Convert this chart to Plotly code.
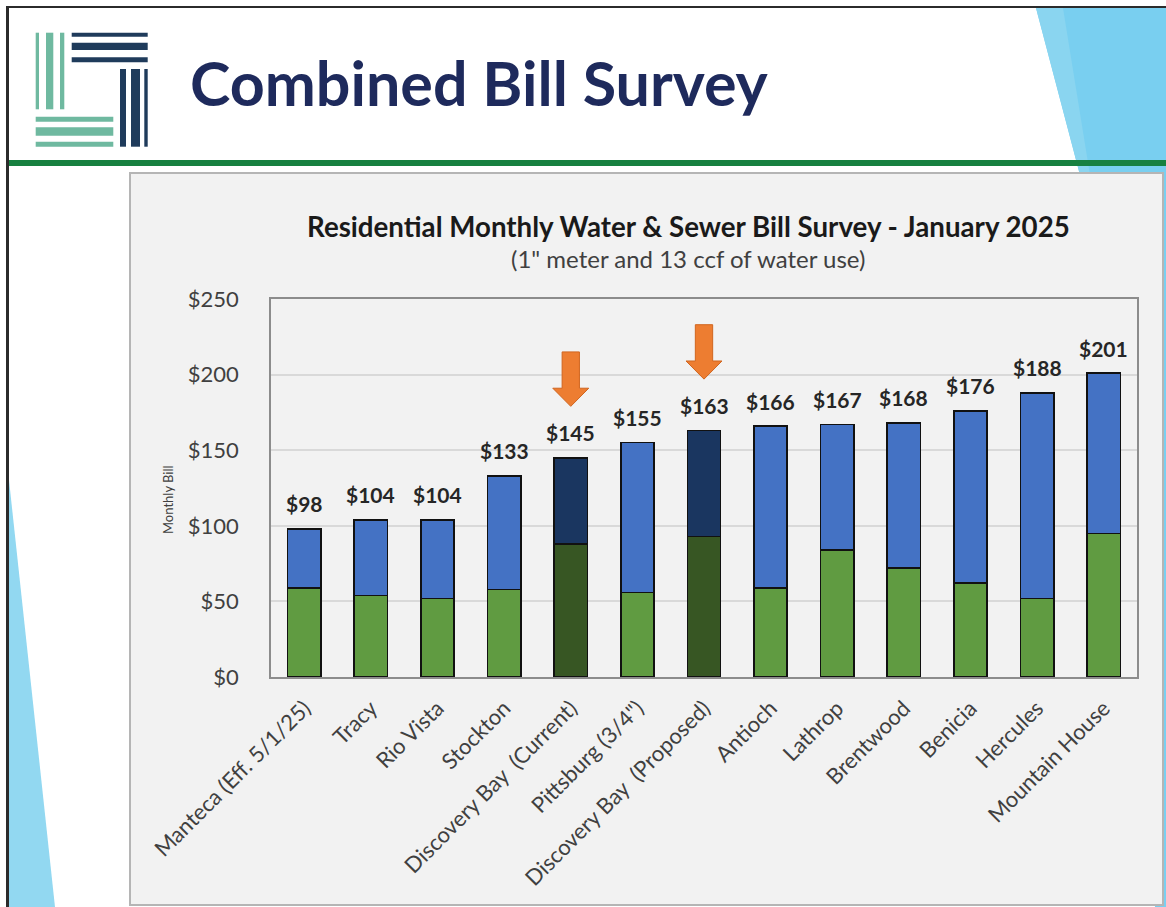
import plotly.graph_objects as go

# ---------------- data ----------------
categories = [
    "Manteca (Eff. 5/1/25)", "Tracy", "Rio Vista", "Stockton",
    "Discovery Bay  (Current)", "Pittsburg (3/4\")", "Discovery Bay  (Proposed)",
    "Antioch", "Lathrop", "Brentwood", "Benicia", "Hercules", "Mountain House",
]
totals = [98, 104, 104, 133, 145, 155, 163, 166, 167, 168, 176, 188, 201]
water = [59, 54, 52, 58, 88, 56, 93, 59, 84, 72, 62, 52, 95]
highlight = [False, False, False, False, True, False, True, False, False, False, False, False, False]
y_tick_values = [0, 50, 100, 150, 200, 250]
y_tick_labels = ["$0", "$50", "$100", "$150", "$200", "$250"]

sewer = [t - w for t, w in zip(totals, water)]
idx = list(range(len(categories)))

# ---------------- styling ----------------
W, H = 1166, 907
FONT = "Lato"
GREEN, GREEN_DK = "#609B41", "#375623"
BLUE, BLUE_DK = "#4472C4", "#1A3660"
ORANGE = "#ED7D31"


def px(x):
    return x / W


def py(y):
    return 1 - y / H


def rect(x0, y0, x1, y1, color, line=None, layer="below"):
    return dict(type="rect", xref="paper", yref="paper",
                x0=px(x0), x1=px(x1), y0=py(y1), y1=py(y0),
                fillcolor=color, line=line or dict(width=0), layer=layer)


def poly(points, color, layer="below"):
    d = "M" + " L".join(f"{px(a):.5f},{py(b):.5f}" for a, b in points) + " Z"
    return dict(type="path", xref="paper", yref="paper", path=d,
                fillcolor=color, line=dict(width=0), layer=layer)


fig = go.Figure()

fig.add_trace(go.Bar(
    x=idx, y=water, width=0.5, name="Water",
    marker=dict(color=[GREEN_DK if h else GREEN for h in highlight],
                line=dict(color="#111111", width=1.6)),
    hoverinfo="skip",
))
fig.add_trace(go.Bar(
    x=idx, y=sewer, width=0.5, name="Sewer",
    marker=dict(color=[BLUE_DK if h else BLUE for h in highlight],
                line=dict(color="#111111", width=1.6)),
    hoverinfo="skip",
))

# orange arrows above highlighted bars (positioned from bar totals)
for i, (t, h) in enumerate(zip(totals, highlight)):
    if not h:
        continue
    tip, base, top = t + 34, t + 46, t + 70
    sw, hw = 0.13, 0.27
    xs = [i - sw, i + sw, i + sw, i + hw, i, i - hw, i - sw, i - sw]
    ys = [top, top, base, base, tip, base, base, top]
    fig.add_trace(go.Scatter(
        x=xs, y=ys, mode="lines", fill="toself", fillcolor=ORANGE,
        line=dict(color="#D0651F", width=1), hoverinfo="skip", showlegend=False,
    ))

annotations = []
for i, t in enumerate(totals):
    annotations.append(dict(
        x=i, y=t, xref="x", yref="y", text=f"${t}", showarrow=False,
        yanchor="middle", yshift=25,
        font=dict(family=FONT, size=21, color="#262626", weight="bold"),
    ))

# slide texts
annotations += [
    dict(x=px(188), y=py(82), xref="paper", yref="paper", xanchor="left", yanchor="middle",
         text="<b>Combined Bill Survey</b>", showarrow=False,
         font=dict(family=FONT, size=61, color="#1E2A5C")),
    dict(x=px(688), y=py(226), xref="paper", yref="paper", xanchor="center", yanchor="middle",
         text="<b>Residential Monthly Water & Sewer Bill Survey - January 2025</b>", showarrow=False,
         font=dict(family=FONT, size=27.7, color="#1A1A1A")),
    dict(x=px(688), y=py(258), xref="paper", yref="paper", xanchor="center", yanchor="middle",
         text="(1\" meter and 13 ccf of water use)", showarrow=False,
         font=dict(family=FONT, size=24, color="#404040")),
    dict(x=px(168), y=py(500), xref="paper", yref="paper", xanchor="center", yanchor="middle",
         text="Monthly Bill", textangle=-90, showarrow=False,
         font=dict(family=FONT, size=13, color="#404040")),
]

NAVY_LOGO, TEAL_LOGO = "#1F3B5B", "#6FB9A0"
shapes = [
    # light-blue decorative shapes
    poly([(1036, 8), (1166, 8), (1166, 907), (1155, 907), (1080, 175)], "#79CFF0"),
    poly([(1036, 8), (1063, 8), (1090, 175), (1080, 175)], "#8AD5F0"),
    poly([(9, 480), (9, 907), (55, 907)], "#92D8F1"),
    # slide frame
    rect(6, 6, 1166, 8, "#2B2B2B"),
    rect(6, 6, 9, 907, "#2B2B2B"),
    # green rule under the title
    rect(9, 160, 1166, 166, "#178040"),
    # chart box
    rect(130, 173, 1163, 905, "#F2F2F2", line=dict(color="#B5B5B5", width=2)),
    # logo
    rect(35.7, 32.7, 39, 109.3, TEAL_LOGO),
    rect(46, 32.7, 53.3, 109.3, TEAL_LOGO),
    rect(60, 32.7, 64.3, 109.3, TEAL_LOGO),
    rect(71.7, 32.7, 147.7, 36.7, NAVY_LOGO),
    rect(71.7, 42.7, 147.7, 50, NAVY_LOGO),
    rect(71.7, 57.3, 147.7, 62.3, NAVY_LOGO),
    rect(120, 69, 126, 146.7, NAVY_LOGO),
    rect(131, 69, 140, 146.7, NAVY_LOGO),
    rect(144.3, 69, 147.7, 146.7, NAVY_LOGO),
    rect(35.7, 116.7, 113.3, 121.7, TEAL_LOGO),
    rect(35.7, 127.3, 113.3, 135.7, TEAL_LOGO),
    rect(35.7, 141.7, 113.3, 146.7, TEAL_LOGO),
]

fig.update_layout(
    width=W, height=H, autosize=False,
    margin=dict(l=0, r=0, t=0, b=0, autoexpand=False),
    paper_bgcolor="white", plot_bgcolor="white",
    barmode="stack", showlegend=False,
    font=dict(family=FONT, color="#404040"),
    annotations=annotations, shapes=shapes,
    xaxis=dict(
        domain=[px(271), px(1137)], range=[-0.5, len(categories) - 0.5],
        tickmode="array", tickvals=idx, ticktext=categories, tickangle=-45,
        tickfont=dict(family=FONT, size=22, color="#404040"),
        showgrid=False, zeroline=False, showline=True, mirror=True,
        linecolor="#8C8C8C", linewidth=1.5, ticks="", ticklabelstandoff=8,
        fixedrange=True, automargin=False,
    ),
    yaxis=dict(
        domain=[py(677), py(299)], range=[0, 250],
        tickmode="array", tickvals=y_tick_values, ticktext=y_tick_labels,
        tickfont=dict(family=FONT, size=22, color="#404040"),
        showgrid=True, gridcolor="#D9D9D9", gridwidth=1.5, zeroline=False,
        showline=True, mirror=True, linecolor="#8C8C8C", linewidth=1.5,
        ticks="", ticklabelstandoff=26, fixedrange=True, automargin=False,
    ),
)

fig.write_html(
    "out.html",
    config={"displayModeBar": False},
    post_script="document.body.style.margin='0px';document.body.style.overflow='hidden';",
)
